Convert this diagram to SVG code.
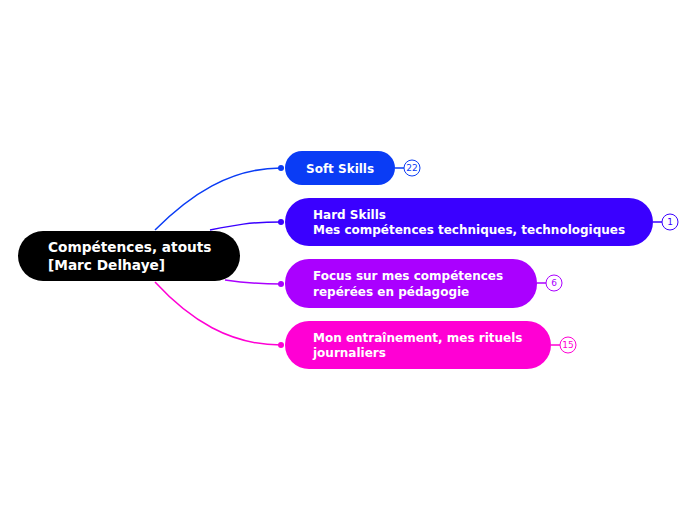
<svg xmlns="http://www.w3.org/2000/svg" width="697" height="520" viewBox="0 0 697 520">
<style>
text{font-family:"DejaVu Sans",sans-serif;font-weight:bold;fill:#fff;font-size:12px}
.r{font-size:13.7px}
.c{fill:none;stroke-width:1.5}
.b{fill:#fff;stroke-width:1}
.bt{font-weight:normal;font-size:9px;text-anchor:middle}
</style>
<rect width="697" height="520" fill="#fff"/>
<g id="connectors">
<path class="c" stroke="#0a3cf5" d="M155 230 C190 195 230 168 281 168"/>
<circle cx="281" cy="168" r="3" fill="#0a3cf5"/>
<path class="c" stroke="#3a00ff" d="M210 230 C235 225 250 222 281 222"/>
<circle cx="281" cy="222" r="3" fill="#3a00ff"/>
<path class="c" stroke="#aa00ff" d="M225 280 C245 283 260 284 281 284"/>
<circle cx="281" cy="284" r="3" fill="#aa00ff"/>
<path class="c" stroke="#ff00d4" d="M155 282 C190 320 230 345 281 345"/>
<circle cx="281" cy="345" r="3" fill="#ff00d4"/>
<path class="c" stroke="#0a3cf5" d="M395 168 H404"/>
<path class="c" stroke="#3a00ff" d="M653 222 H662"/>
<path class="c" stroke="#aa00ff" d="M537 283 H546"/>
<path class="c" stroke="#ff00d4" d="M551 345 H560"/>
</g>
<g id="root"><rect x="18" y="231" width="222" height="50" rx="25" fill="#000"/>
<text class="r" x="48" y="252">Compétences, atouts</text><text class="r" x="48" y="270">[Marc Delhaye]</text></g>
<g id="soft"><rect x="285" y="151" width="110" height="34" rx="17" fill="#0a3cf5"/><text x="306" y="173">Soft Skills</text>
<circle class="b" cx="412" cy="168" r="8" stroke="#0a3cf5"/><text class="bt" x="412" y="171" style="fill:#0a3cf5">22</text></g>
<g id="hard"><rect x="285" y="198" width="368" height="48" rx="24" fill="#3a00ff"/><text x="313" y="219">Hard Skills</text><text x="313" y="234">Mes compétences techniques, technologiques</text>
<circle class="b" cx="670" cy="222" r="8" stroke="#3a00ff"/><text class="bt" x="670" y="225" style="fill:#3a00ff">1</text></g>
<g id="focus"><rect x="285" y="259" width="252" height="49" rx="24" fill="#aa00ff"/><text x="313" y="280">Focus sur mes compétences</text><text x="313" y="296">repérées en pédagogie</text>
<circle class="b" cx="554" cy="283" r="8" stroke="#aa00ff"/><text class="bt" x="554" y="286" style="fill:#aa00ff">6</text></g>
<g id="mon"><rect x="285" y="321" width="266" height="48" rx="24" fill="#ff00d4"/><text x="313" y="342">Mon entraînement, mes rituels</text><text x="313" y="357">journaliers</text>
<circle class="b" cx="568" cy="345" r="8" stroke="#ff00d4"/><text class="bt" x="568" y="348" style="fill:#ff00d4">15</text></g>
</svg>
